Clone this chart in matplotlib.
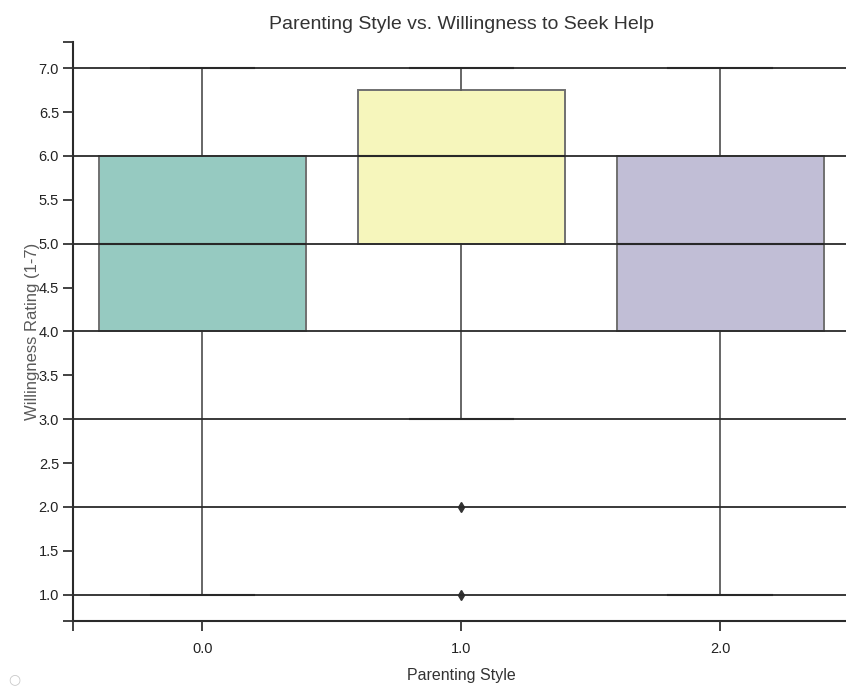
import colorsys
import matplotlib
matplotlib.use("Agg")
import matplotlib.pyplot as plt
import matplotlib.colors as mcolors
from matplotlib.ticker import FixedLocator, FixedFormatter

plt.rcParams['font.family'] = ['Liberation Sans', 'DejaVu Sans']

# box summaries per parenting style
styles = ["0.0", "1.0", "2.0"]
whislo = [1.0, 3.0, 1.0]
q1 = [4.0, 5.0, 4.0]
med = [5.0, 6.0, 5.0]
q3 = [6.0, 6.75, 6.0]
whishi = [7.0, 7.0, 7.0]
fliers = [[], [2.0, 1.0], []]
base_colors = ["#8dd3c7", "#ffffb3", "#bebada"]


def desaturate(c, prop=0.75):
    r, g, b = mcolors.to_rgb(c)
    h, l, s = colorsys.rgb_to_hls(r, g, b)
    return colorsys.hls_to_rgb(h, l, s * prop)


stats = []
for i in range(len(styles)):
    stats.append(dict(whislo=whislo[i], q1=q1[i], med=med[i], q3=q3[i],
                      whishi=whishi[i], fliers=fliers[i], label=styles[i]))

fig = plt.figure(figsize=(8.46, 6.87), dpi=100)
ax = fig.add_axes([0.0863, 0.096, 0.918, 0.843])

bp = ax.bxp(stats, positions=range(len(styles)), widths=0.8, patch_artist=True,
            boxprops=dict(edgecolor="#707070", linewidth=1.4),
            whiskerprops=dict(color="#5a5a5a", linewidth=1.3),
            capprops=dict(color="#1a1a1a", linewidth=1.5),
            medianprops=dict(color="#1a1a1a", linewidth=1.5),
            flierprops=dict(marker="d", markerfacecolor="#333333",
                            markeredgecolor="#333333", markersize=5))
for patch, c in zip(bp["boxes"], base_colors):
    patch.set_facecolor(desaturate(c))

ax.set_xlim(-0.5, 2.5)
ax.set_ylim(0.7, 7.3)

# integer ticks carry the grid, half steps and axis ends get plain ticks
ax.yaxis.set_major_locator(FixedLocator([1, 2, 3, 4, 5, 6, 7]))
ax.yaxis.set_major_formatter(FixedFormatter(["1.0", "2.0", "3.0", "4.0", "5.0", "6.0", "7.0"]))
ax.yaxis.set_minor_locator(FixedLocator([0.7, 1.5, 2.5, 3.5, 4.5, 5.5, 6.5, 7.3]))
ax.yaxis.set_minor_formatter(FixedFormatter(["", "1.5", "2.5", "3.5", "4.5", "5.5", "6.5", ""]))
ax.xaxis.set_major_locator(FixedLocator([0, 1, 2]))
ax.xaxis.set_major_formatter(FixedFormatter(styles))
ax.xaxis.set_minor_locator(FixedLocator([-0.5]))

ax.tick_params(axis="y", which="both", length=7, width=1.3, color="#333333",
               labelsize=10.5, labelcolor="#222222", pad=3)
ax.tick_params(axis="x", which="both", length=7, width=1.3, color="#333333",
               labelsize=10.5, labelcolor="#222222", pad=8)

ax.set_axisbelow(False)
ax.yaxis.grid(True, which="major", color="#2a2a2a", linewidth=1.3)

for side in ["top", "right"]:
    ax.spines[side].set_visible(False)
for side in ["left", "bottom"]:
    ax.spines[side].set_linewidth(1.5)
    ax.spines[side].set_color("#2a2a2a")

ax.set_title("Parenting Style vs. Willingness to Seek Help", fontsize=14,
             color="#333333", pad=9)
ax.set_xlabel("Parenting Style", fontsize=11.5, color="#333333", labelpad=9)
ax.set_ylabel("Willingness Rating (1-7)", fontsize=12, color="#5a5a5a")
ax.yaxis.set_label_coords(-0.043, 0.5)

fig.text(0.01, 0.005, "○", fontsize=10, color="#c8c8c8", family=['DejaVu Sans'])

fig.savefig("out.png", dpi=100)
